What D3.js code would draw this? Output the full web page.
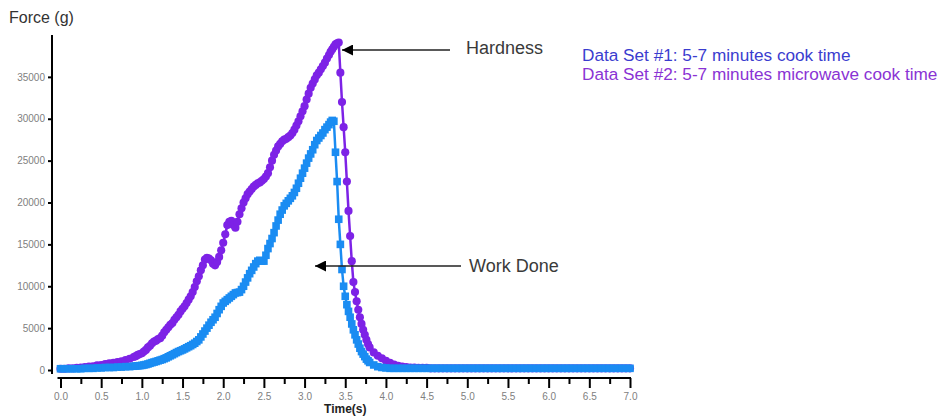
<!DOCTYPE html>
<meta charset="utf-8">
<style>
body { margin: 0; background: #fff; }
svg { font-family: "Liberation Sans", Arial, sans-serif; }
.axis path, .axis line { stroke: #000; stroke-width: 2; fill: none; }
.axis text { fill: #808080; font-size: 10px; }
.note { fill: #3a3a3a; font-size: 18px; }
</style>
<body>
<div id="chart"></div>
<script src="https://cdn.jsdelivr.net/npm/d3@7"></script>
<script>

// sample times (s)
var timeS = [
  0.00,0.05,0.10,0.15,0.20,0.25,0.30,0.35,0.40,0.45,
  0.50,0.55,0.60,0.65,0.70,0.75,0.80,0.85,0.90,
  0.925,0.95,0.975,1.00,
  1.025,1.05,1.075,1.10, 1.125,1.15,1.175,1.20, 1.225,1.25,1.275,1.30, 1.325,1.35,1.375,1.40, 1.425,1.45,1.475,1.50,
  1.525,1.55,1.575,1.60, 1.625,1.65,1.675,1.70, 1.725,1.75,1.775,1.80, 1.825,1.85,1.875,1.90, 1.925,1.95,1.975,2.00,
  2.025,2.05,2.075,2.10, 2.125,2.15,2.175,2.20, 2.225,2.25,2.275,2.30, 2.325,2.35,2.375,2.40, 2.425,2.45,2.475,2.50,
  2.525,2.55,2.575,2.60, 2.625,2.65,2.675,2.70, 2.725,2.75,2.775,2.80, 2.825,2.85,2.875,2.90, 2.925,2.95,2.975,3.00,
  3.025,3.05,3.075,3.10, 3.125,3.15,3.175,3.20, 3.225,3.25,3.275,3.30,
  3.32,3.34,3.36,3.38,3.40,3.42,3.44,3.46,3.48,3.50,
  3.52,3.54,3.56,3.58,3.60,3.62,3.64,3.66,3.68,3.70,
  3.72,3.74,3.76,3.78,3.80,
  3.85,3.90,3.95,4.00,4.05,4.10,4.15,4.20,
  4.25,4.30,4.35,4.40,4.45,4.50,4.55,4.60,4.65,4.70,
  4.75,4.80,4.85,4.90,4.95,5.00,5.05,5.10,5.15,5.20,
  5.25,5.30,5.35,5.40,5.45,5.50,5.55,5.60,5.65,5.70,
  5.75,5.80,5.85,5.90,5.95,6.00,6.05,6.10,6.15,6.20,
  6.25,6.30,6.35,6.40,6.45,6.50,6.55,6.60,6.65,6.70,
  6.75,6.80,6.85,6.90,6.95,7.00
];

// Data Set #1: 5-7 minutes cook time, force (g)
var cookForce = [
  150,150,150,150,150,150,200,200,200,250,
  250,300,300,300,350,350,400,400,450,
  480,500,520,550,
  600,650,720,800, 880,950,1020,1100, 1180,1250,1350,1450, 1580,1700,1820,1950, 2080,2200,2300,2400,
  2520,2650,2780,2900, 3050,3200,3400,3600, 3950,4300,4650,5000, 5350,5700,6000,6300, 6750,7200,7600,8000,
  8200,8400,8600,8800, 9000,9200,9250,9300, 9600,10000,10500,11000, 11500,11900,12300,12700, 13000,13100,13000,13000,
  13700,14500,15100,15700, 16400,17200,17900,18600, 19100,19600,19900,20200, 20500,20800,21200,21700, 22300,22900,23500,24100,
  24700,25300,25800,26300, 26900,27400,27700,28000, 28300,28700,29000,29300,
  29600,29800,29700,26000,22500,18000,15000,12000,10000,8800,
  7800,7000,6300,5500,4800,4200,3600,3100,2600,2200,
  1900,1600,1300,1100,900,
  600,400,300,250,200,200,200,200,
  200,200,200,200,200,200,200,200,200,200,
  200,200,200,200,200,200,200,200,200,200,
  200,200,200,200,200,200,200,200,200,200,
  200,200,200,200,200,200,200,200,200,200,
  200,200,200,200,200,200,200,200,200,200,
  200,200,200,200,200,200
];

// Data Set #2: 5-7 minutes microwave cook time, force (g)
var microForce = [
  150,150,200,200,250,300,350,400,450,550,
  600,700,800,850,950,1050,1200,1350,1550,
  1650,1800,1900,2000,
  2200,2400,2700,2900, 3200,3400,3500,3700, 3800,4100,4500,4800, 5100,5400,5600,6000, 6300,6600,7000,7300,
  7600,8000,8400,8800, 9300,9900,10600,11200, 11900,12500,13200,13400, 13300,13100,12700,12500, 12900,13500,14300,15200,
  16200,17300,17700,17800, 17300,17000,17700,18600, 19300,20000,20500,21000, 21300,21600,21900,22100, 22300,22400,22600,22800,
  23100,23500,24200,25000, 25700,26200,26700,27000, 27300,27500,27600,27800, 28000,28300,28700,29200, 29700,30300,30900,31500,
  32300,33000,33700,34200, 34700,35200,35500,35900, 36300,36700,37200,37600,
  38000,38300,38600,38900,39000,39100,35500,32000,29000,26000,
  22500,19000,16000,13000,10500,9300,8200,7200,6300,5500,
  4800,4200,3600,3100,2700,
  2100,1700,1400,1100,850,650,500,400,
  350,300,300,250,250,250,200,200,200,200,
  200,200,200,200,200,200,200,200,200,200,
  200,200,200,200,200,200,200,200,200,200,
  200,200,200,200,200,200,200,200,200,200,
  200,200,200,200,200,200,200,200,200,200,
  200,200,200,200,200,200
];

var yTicks = [0, 5000, 10000, 15000, 20000, 25000, 30000, 35000];
var xMajor = [0,0.5,1,1.5,2,2.5,3,3.5,4,4.5,5,5.5,6,6.5,7];
var xMinor = [0.25,0.75,1.25,1.75,2.25,2.75,3.25,3.75,4.25,4.75,5.25,5.75,6.25,6.75];

var seriesNames = ["Data Set #1: 5-7 minutes cook time", "Data Set #2: 5-7 minutes microwave cook time"];

if (cookForce.length !== timeS.length || microForce.length !== timeS.length) {
  throw new Error("length mismatch " + timeS.length + " " + cookForce.length + " " + microForce.length);
}

var width = 947, height = 416;
var svg = d3.select("#chart").append("svg")
  .attr("width", width).attr("height", height);

var x = d3.scaleLinear().domain([0, 7]).range([60.5, 630]);
var y = d3.scaleLinear().domain([0, 40000]).range([370, 35]);

// y axis
var gy = svg.append("g")
  .attr("class", "axis")
  .attr("transform", "translate(52,0)")
  .call(d3.axisLeft(y).tickValues(yTicks).tickSize(4).tickSizeOuter(0).tickFormat(d3.format("d")));
gy.select(".domain").attr("d", "M0," + (y(0) + 4) + "V" + y(40000));

// x axis, minor + major ticks
var xAxisY = 378;
svg.append("g")
  .attr("class", "axis")
  .attr("transform", "translate(0," + xAxisY + ")")
  .call(d3.axisBottom(x).tickValues(xMinor).tickSize(6).tickFormat(""))
  .select(".domain").remove();
var gx = svg.append("g")
  .attr("class", "axis")
  .attr("transform", "translate(0," + xAxisY + ")")
  .call(d3.axisBottom(x).tickValues(xMajor).tickSize(10).tickPadding(5).tickSizeOuter(0).tickFormat(d3.format(".1f")));
gx.select(".domain").attr("d", "M" + (x(0) - 3) + ",0H" + (x(7) + 1));

svg.append("text")
  .attr("x", x(3.5)).attr("y", 413)
  .attr("text-anchor", "middle")
  .style("font-size", "12px").style("font-weight", "bold").style("fill", "#222")
  .text("Time(s)");

svg.append("text")
  .attr("x", 9).attr("y", 23)
  .style("font-size", "16px").style("fill", "#333")
  .text("Force (g)");

// series
var purple = "#7d22e6", blue = "#1a8cf2";
var line = d3.line().x(function(d) { return x(d.t); }).y(function(d) { return y(d.f); });

function drawSeries(vals, color, sym, size) {
  var pts = timeS.map(function(t, i) { return {t: t, f: vals[i]}; });
  svg.append("path")
    .datum(pts)
    .attr("d", line)
    .attr("fill", "none")
    .attr("stroke", color)
    .attr("stroke-width", 2.5)
    .attr("stroke-linejoin", "round");
  svg.append("g").selectAll("path")
    .data(pts)
    .enter().append("path")
    .attr("d", d3.symbol().type(sym).size(size))
    .attr("transform", function(d) { return "translate(" + x(d.t) + "," + y(d.f) + ")"; })
    .attr("fill", color);
}
drawSeries(microForce, purple, d3.symbolCircle, 52);
drawSeries(cookForce, blue, d3.symbolSquare, 58);

// annotations
var defs = svg.append("defs");
defs.append("marker")
  .attr("id", "arr")
  .attr("viewBox", "0 0 10 10")
  .attr("refX", 10).attr("refY", 5)
  .attr("markerWidth", 15).attr("markerHeight", 11)
  .attr("markerUnits", "userSpaceOnUse")
  .attr("orient", "auto")
  .append("path").attr("d", "M0,0L10,5L0,10Z").attr("fill", "#000");

svg.append("line")
  .attr("x1", 450).attr("y1", 50).attr("x2", 342).attr("y2", 50)
  .attr("stroke", "#222").attr("stroke-width", 1.5)
  .attr("marker-end", "url(#arr)");
svg.append("text").attr("class", "note").attr("x", 466).attr("y", 54).text("Hardness");

svg.append("line")
  .attr("x1", 461).attr("y1", 266).attr("x2", 315).attr("y2", 266)
  .attr("stroke", "#222").attr("stroke-width", 1.5)
  .attr("marker-end", "url(#arr)");
svg.append("text").attr("class", "note").attr("x", 469).attr("y", 272).text("Work Done");

// legend
var legColors = ["#3a3ccf", "#8a33d4"];
svg.selectAll(".leg")
  .data(seriesNames)
  .enter().append("text")
  .attr("class", "leg")
  .attr("x", 582)
  .attr("y", function(d, i) { return 61 + i * 19; })
  .style("font-size", "17.2px")
  .style("fill", function(d, i) { return legColors[i]; })
  .text(function(d) { return d; });

</script>
</body>
</html>
